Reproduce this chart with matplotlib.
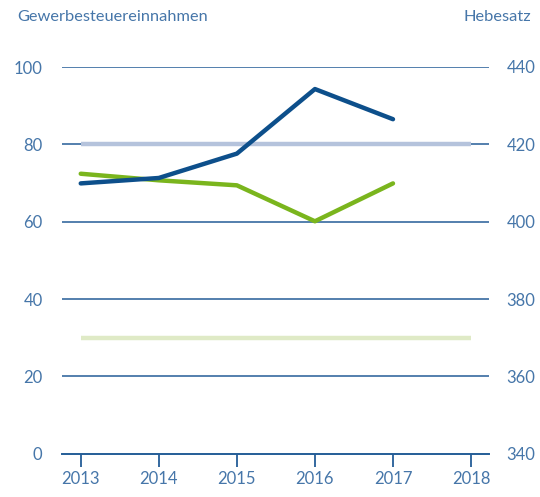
import matplotlib
matplotlib.use("Agg")
import matplotlib.pyplot as plt

years = [2013, 2014, 2015, 2016, 2017]
gewerbesteuer = [69.9, 71.3, 77.6, 94.3, 86.5]
hebesatz = [412.4, 410.7, 409.4, 400.1, 409.9]
span_years = [2013, 2018]
ref_left = [80, 80]
ref_right = [370, 370]

left_ticks = [0, 20, 40, 60, 80, 100]
right_ticks = [340, 360, 380, 400, 420, 440]
x_ticks = [2013, 2014, 2015, 2016, 2017, 2018]

TEXT = "#4676a9"
GRID = "#245d97"
BLUE = "#0d4f8b"
GREEN = "#7ab51d"
PALE_BLUE = "#b5c3dc"
PALE_GREEN = "#dfeac6"

plt.rcParams["font.family"] = ["Lato", "DejaVu Sans"]

fig = plt.figure(figsize=(5.4, 4.97), dpi=100)
ax = fig.add_axes([62 / 540, 43.3 / 497, 427 / 540, 386.7 / 497])
ax2 = ax.twinx()

ax.set_xlim(2012.76, 2018.23)
ax.set_ylim(0, 100)
ax2.set_ylim(340, 440)

for y in left_ticks[1:]:
    ax.axhline(y, color=GRID, lw=1.1, zorder=1)

ax.plot(span_years, ref_left, color=PALE_BLUE, lw=3.2, solid_capstyle="butt", zorder=2)
ax2.plot(span_years, ref_right, color=PALE_GREEN, lw=3.2, solid_capstyle="butt", zorder=2)
ax2.plot(years, hebesatz, color=GREEN, lw=3.2, solid_capstyle="round", zorder=3)
ax2.plot(years, gewerbesteuer, color=BLUE, lw=3.2, solid_capstyle="round", zorder=4,
         transform=ax.transData)

for a in (ax, ax2):
    for s in a.spines.values():
        s.set_visible(False)
ax.spines["bottom"].set_visible(True)
ax.spines["bottom"].set_color(GRID)
ax.spines["bottom"].set_linewidth(1.4)

# pads are in points (1px = 0.72pt at dpi 100)
ax.set_xticks(x_ticks)
ax.set_xticklabels([str(x) for x in x_ticks])
ax.tick_params(axis="x", direction="out", length=9.5, width=1.3, color=GRID,
               labelcolor=TEXT, labelsize=12, pad=3)
ax.set_yticks(left_ticks)
ax.tick_params(axis="y", length=0, labelcolor=TEXT, labelsize=12, pad=14)
ax2.set_yticks(right_ticks)
ax2.tick_params(axis="y", length=0, labelcolor=TEXT, labelsize=12, pad=12.5)

fig.text(17 / 540, 1 - 17 / 497, "Gewerbesteuereinnahmen", color=TEXT,
         fontsize=11.8, ha="left", va="center")
fig.text(531 / 540, 1 - 17 / 497, "Hebesatz", color=TEXT,
         fontsize=11.8, ha="right", va="center")

fig.savefig("out.png", dpi=100)
